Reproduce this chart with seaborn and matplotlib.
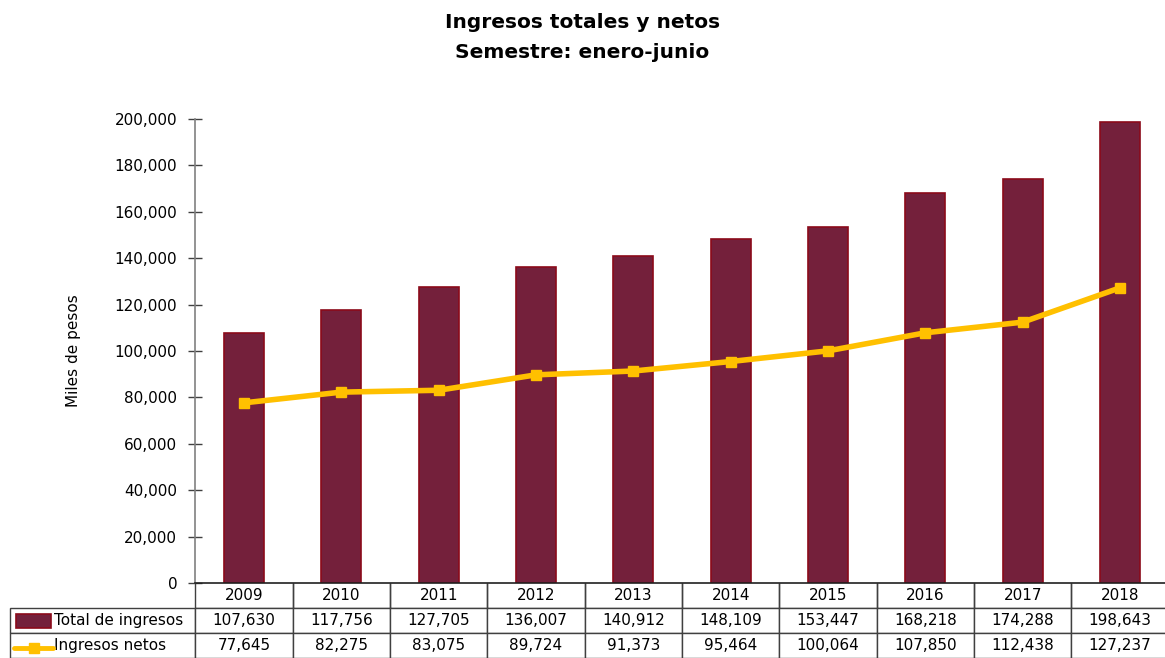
import matplotlib
matplotlib.use("Agg")
import matplotlib.pyplot as plt
import seaborn as sns
import pandas as pd
from matplotlib.patches import Rectangle
from matplotlib.lines import Line2D

years = ["2009", "2010", "2011", "2012", "2013", "2014", "2015", "2016", "2017", "2018"]
total_ingresos = [107630, 117756, 127705, 136007, 140912, 148109, 153447, 168218, 174288, 198643]
ingresos_netos = [77645, 82275, 83075, 89724, 91373, 95464, 100064, 107850, 112438, 127237]
y_ticks = [0, 20000, 40000, 60000, 80000, 100000, 120000, 140000, 160000, 180000, 200000]

sns.set_theme(style="white")
plt.rcParams["font.family"] = ["DejaVu Sans"]
plt.rcParams["text.color"] = "black"
plt.rcParams["axes.labelcolor"] = "black"
plt.rcParams["ytick.color"] = "black"

BAR = "#74203B"
BAR_EDGE = "#8B0A1A"
LINE = "#FFC000"

df = pd.DataFrame({"year": years, "total": total_ingresos, "netos": ingresos_netos})

W, H = 1165, 658
fig = plt.figure(figsize=(W / 100, H / 100), dpi=100)
left_px, right_px, top_px, bot_px = 195.3, 1168.7, 119, 583
ax = fig.add_axes([left_px / W, 1 - bot_px / H, (right_px - left_px) / W, (bot_px - top_px) / H])

sns.barplot(data=df, x="year", y="total", ax=ax, color=BAR, width=0.41,
            edgecolor=BAR_EDGE, linewidth=1.2, saturation=1)
ax.plot(range(len(years)), ingresos_netos, color=LINE, linewidth=4,
        marker="s", markersize=7.5, markerfacecolor=LINE, markeredgecolor=LINE, zorder=5)

ax.set_xlim(-0.5, len(years) - 0.5)
ax.set_ylim(0, 200000)
ax.set_yticks(y_ticks)
ax.set_yticklabels([f"{v:,}" for v in y_ticks], fontsize=11)
ax.tick_params(axis="y", direction="inout", length=10, width=1, color="#404040", pad=8, left=True)
ax.set_xticks([])
ax.set_xlabel("")
ax.set_ylabel("Miles de pesos", fontsize=11, labelpad=24)
for s in ["top", "right"]:
    ax.spines[s].set_visible(False)
ax.spines["left"].set_color("#808080")
ax.spines["left"].set_linewidth(1.2)
ax.spines["bottom"].set_color("#202020")
ax.spines["bottom"].set_linewidth(1.2)

fig.text(0.5, 1 - 22 / H, "Ingresos totales y netos",
         ha="center", va="center", fontsize=14.5, fontweight="bold", color="black")
fig.text(0.5, 1 - 52 / H, "Semestre: enero-junio",
         ha="center", va="center", fontsize=14.5, fontweight="bold", color="black")

# data table
axw = right_px - left_px
axh = bot_px - top_px
label_left_px = 10
row_h = 25
cell_text = [[""] + years,
             ["Total de ingresos"] + [f"{v:,}" for v in total_ingresos],
             ["Ingresos netos"] + [f"{v:,}" for v in ingresos_netos]]
col_w = [(left_px - label_left_px) / axw] + [1 / len(years)] * len(years)
tbl = ax.table(cellText=cell_text, colWidths=col_w, cellLoc="center",
               bbox=[(label_left_px - left_px) / axw, -3 * row_h / axh,
                     (right_px - label_left_px) / axw, 3 * row_h / axh])
tbl.auto_set_font_size(False)
tbl.set_fontsize(11)
for (r, c), cell in tbl.get_celld().items():
    cell.set_edgecolor("#404040")
    cell.set_linewidth(1.0)
    cell.get_text().set_color("black")
    if r == 0 and c == 0:
        cell.visible_edges = ""
    if r == 0 and c > 0:
        cell.visible_edges = "BLR"
    if c == 0 and r > 0:
        cell.get_text().set_ha("left")
        cell._loc = "left"
        cell.PAD = 0.24

# legend glyphs in row labels
def px2ax(x, y):
    return (x - left_px) / axw, (bot_px - y) / axh

x0, y0 = px2ax(16, 628)
x1, y1 = px2ax(51, 614)
ax.add_patch(Rectangle((x0, y0), x1 - x0, y1 - y0, transform=ax.transAxes,
                       facecolor=BAR, edgecolor=BAR_EDGE, linewidth=1.2, clip_on=False))
lx0, ly = px2ax(14, 648)
lx1, _ = px2ax(53, 648)
ax.add_line(Line2D([lx0, lx1], [ly, ly], transform=ax.transAxes, color=LINE,
                   linewidth=3.5, clip_on=False))
ax.add_line(Line2D([(lx0 + lx1) / 2], [ly], transform=ax.transAxes, color=LINE,
                   marker="s", markersize=7, clip_on=False))

fig.savefig("out.png", dpi=100)
